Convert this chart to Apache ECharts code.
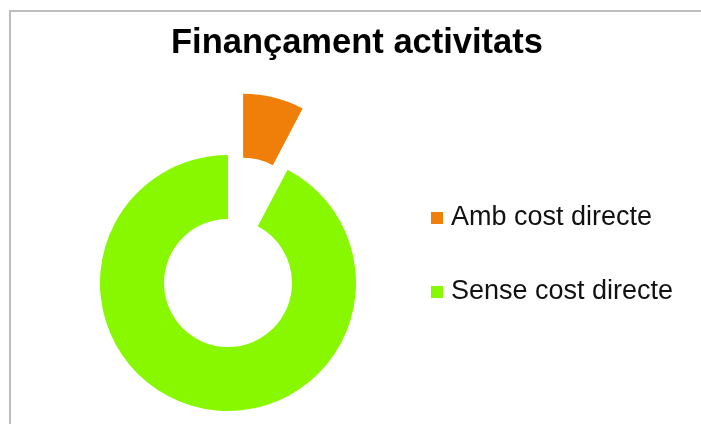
<!DOCTYPE html>
<html>
<head>
<meta charset="utf-8">
<script src="https://cdn.jsdelivr.net/npm/echarts@6/dist/echarts.min.js"></script>
<style>
html,body{margin:0;padding:0;background:#fff;}
#chart{width:701px;height:424px;}
</style>
</head>
<body>
<div id="chart"></div>
<script>
const chartTitle = 'Finançament activitats';
const categories = ['Amb cost directe', 'Sense cost directe'];
const values = [7.7, 92.3];
const colors = ['#F07F0A', '#88F800'];

const chart = echarts.init(document.getElementById('chart'), null, {renderer: 'canvas'});
chart.setOption({
  animation: false,
  backgroundColor: '#ffffff',
  title: {
    text: chartTitle,
    left: 171,
    top: 26,
    padding: 0,
    textStyle: {fontFamily: 'Liberation Sans, Arial, sans-serif', fontWeight: 'bold', fontSize: 34.5, color: '#000'}
  },
  graphic: [{
    type: 'rect',
    shape: {x: 10, y: 11, width: 800, height: 500},
    style: {fill: 'none', stroke: '#bdbdbd', lineWidth: 2},
    silent: true
  }],
  legend: {
    orient: 'vertical',
    left: 431,
    top: 203,
    padding: 0,
    itemWidth: 12,
    itemHeight: 12,
    itemGap: 44,
    icon: 'rect',
    selectedMode: false,
    data: categories,
    textStyle: {fontFamily: 'Liberation Sans, Arial, sans-serif', fontSize: 27, lineHeight: 30, color: '#111', padding: [0, 0, 0, 3]}
  },
  series: [{
    type: 'pie',
    center: [228, 283],
    radius: [64, 128],
    startAngle: 90,
    clockwise: true,
    selectedMode: 'single',
    selectedOffset: 63,
    label: {show: false},
    labelLine: {show: false},
    emphasis: {disabled: true},
    select: {itemStyle: {}},
    data: categories.map((c, i) => ({
      name: c,
      value: values[i],
      selected: i === 0,
      itemStyle: {color: colors[i]}
    }))
  }]
});
</script>
</body>
</html>
